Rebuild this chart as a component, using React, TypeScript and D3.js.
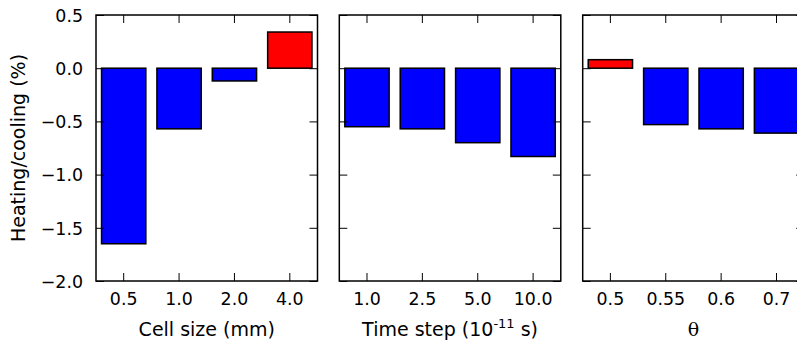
import * as d3 from 'd3';
import { useEffect, useRef } from 'react';

// Heating/cooling (%) for each parameter sweep
const cellSizes = ['0.5', '1.0', '2.0', '4.0'];
const cellSizeValues = [-1.65, -0.57, -0.12, 0.34];

const timeSteps = ['1.0', '2.5', '5.0', '10.0'];
const timeStepValues = [-0.55, -0.57, -0.70, -0.83];

const thetas = ['0.5', '0.55', '0.6', '0.7'];
const thetaValues = [0.08, -0.53, -0.57, -0.61];

const yTicks = [0.5, 0.0, -0.5, -1.0, -1.5, -2.0];

const W = 797;
const H = 346;

const App = () => {
    const svgRef = useRef<SVGSVGElement>(null);

    useEffect(() => {
        const svg = d3.select(svgRef.current);
        svg.selectAll('*').remove();

        const font = 'DejaVu Sans, sans-serif';
        const top = 15;
        const bottom = 281;
        const panelW = 221.5;
        const lefts = [96, 339.3, 582.7];

        const y = d3.scaleLinear().domain([-2.0, 0.5]).range([bottom, top]);
        const fmt = (d: d3.NumberValue) => d3.format('.1f')(+d).replace('-', '\u2212');

        const panels = [
            { cats: cellSizes, vals: cellSizeValues, label: 'Cell size (mm)' },
            { cats: timeSteps, vals: timeStepValues, label: 'Time step' },
            { cats: thetas, vals: thetaValues, label: '\u03b8' },
        ];

        panels.forEach((p, i) => {
            const x0 = lefts[i];
            const x = d3
                .scaleBand()
                .domain(p.cats)
                .range([x0, x0 + panelW])
                .paddingInner(0.2)
                .paddingOuter(0.1);

            const g = svg.append('g');

            // Bars
            g.selectAll('.bar')
                .data(p.cats.map((c, j) => ({ c, v: p.vals[j] })))
                .enter()
                .append('rect')
                .attr('x', (d) => x(d.c) || 0)
                .attr('width', x.bandwidth())
                .attr('y', (d) => y(Math.max(0, d.v)))
                .attr('height', (d) => Math.abs(y(d.v) - y(0)))
                .attr('fill', (d) => (d.v >= 0 ? '#ff0000' : '#0000ff'))
                .attr('stroke', '#000')
                .attr('stroke-width', 1.5);

            // Axes (inward ticks on all four sides)
            const left = d3.axisLeft(y).tickValues(yTicks).tickSize(-8).tickPadding(13)
                .tickFormat(i === 0 ? fmt : () => '');
            const right = d3.axisRight(y).tickValues(yTicks).tickSize(-8).tickFormat(() => '');
            const topAx = d3.axisTop(x).tickSize(-8).tickFormat(() => '');
            const bottomAx = d3.axisBottom(x).tickSize(-8).tickPadding(12);

            const gl = g.append('g').attr('transform', `translate(${x0},0)`).call(left);
            g.append('g').attr('transform', `translate(${x0 + panelW},0)`).call(right);
            g.append('g').attr('transform', `translate(0,${top})`).call(topAx);
            g.append('g').attr('transform', `translate(0,${bottom})`).call(bottomAx);

            g.selectAll('.domain').remove();
            g.selectAll('.tick line').attr('stroke', '#000').attr('stroke-width', 1);
            g.selectAll('.tick text').attr('fill', '#000').style('font-family', font).style('font-size', '17.4px');
            gl.selectAll('.tick text').attr('dy', '0.36em');

            // Frame
            g.append('rect')
                .attr('x', x0)
                .attr('y', top)
                .attr('width', panelW)
                .attr('height', bottom - top)
                .attr('fill', 'none')
                .attr('stroke', '#000')
                .attr('stroke-width', 1.5);

            // X label
            const cx = x0 + panelW / 2;
            const t = g.append('text')
                .attr('x', cx)
                .attr('y', 336)
                .attr('text-anchor', 'middle')
                .style('font-family', i === 2 ? 'DejaVu Serif, serif' : font)
                .style('font-size', '19px');
            if (i === 1) {
                t.append('tspan').text('Time step (10');
                t.append('tspan').attr('dy', -8).style('font-size', '13px').text('-11');
                t.append('tspan').attr('dy', 8).text(' s)');
            } else {
                t.text(p.label);
            }
        });

        // Y label
        svg.append('text')
            .attr('transform', `translate(24.5,${(top + bottom) / 2}) rotate(-90)`)
            .attr('text-anchor', 'middle')
            .style('font-family', font)
            .style('font-size', '19px')
            .text('Heating/cooling (%)');
    }, []);

    return (
        <div style={{ position: 'absolute', left: 0, top: 0 }}>
            <svg ref={svgRef} width={W} height={H} style={{ display: 'block', background: '#fff' }}></svg>
        </div>
    );
};

export default App;
